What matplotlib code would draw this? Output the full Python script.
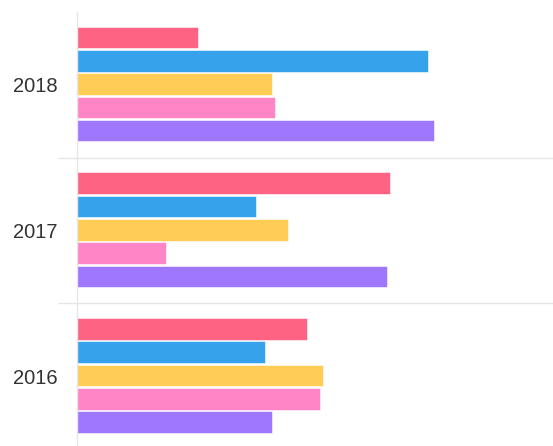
import numpy as np
import matplotlib
matplotlib.use('Agg')
import matplotlib.pyplot as plt

# categories bottom to top
years = ['2016', '2017', '2018']

# one list per series, values per year (2016, 2017, 2018)
s_red = [48.3, 65.8, 25.4]
s_blue = [39.5, 37.6, 73.7]
s_yellow = [51.7, 44.3, 41.0]
s_pink = [51.1, 18.7, 41.6]
s_purple = [41.0, 65.1, 75.0]

series = [s_red, s_blue, s_yellow, s_pink, s_purple]
colors = ['#ff6384', '#36a2eb', '#ffcd56', '#ff85c6', '#9f77ff']

fig = plt.figure(figsize=(5.53, 4.46), dpi=100)
W, H = 553, 446
left, right, top, bottom = 77, 553, 12, 449
ax = fig.add_axes([left / W, (H - bottom) / H, (right - left) / W, (bottom - top) / H])

y = np.arange(len(years))
slot = 0.16
bar_h = 0.148
for i, (vals, c) in enumerate(zip(series, colors)):
    offset = (2 - i) * slot + 0.005
    ax.barh(y + offset, vals, height=bar_h, color=c, edgecolor='white', linewidth=0.4)

ax.set_xlim(0, 100)
ax.set_ylim(-0.5, 2.5)

ax.set_yticks(y)
ax.set_yticklabels(years, fontsize=14.5, family='Liberation Sans', color='#333333')
ax.tick_params(axis='y', which='major', length=0, pad=14)
ax.set_yticks([0.5, 1.5], minor=True)
ax.tick_params(axis='y', which='minor', length=13.7, color='#e6e6e6', width=1)
ax.grid(axis='y', which='minor', color='#e6e6e6', linewidth=1)
ax.set_axisbelow(True)
ax.set_xticks([])

for side in ['top', 'right', 'bottom']:
    ax.spines[side].set_visible(False)
ax.spines['left'].set_color('#e6e6e6')
ax.spines['left'].set_linewidth(1)

fig.savefig('out.png', dpi=100)
